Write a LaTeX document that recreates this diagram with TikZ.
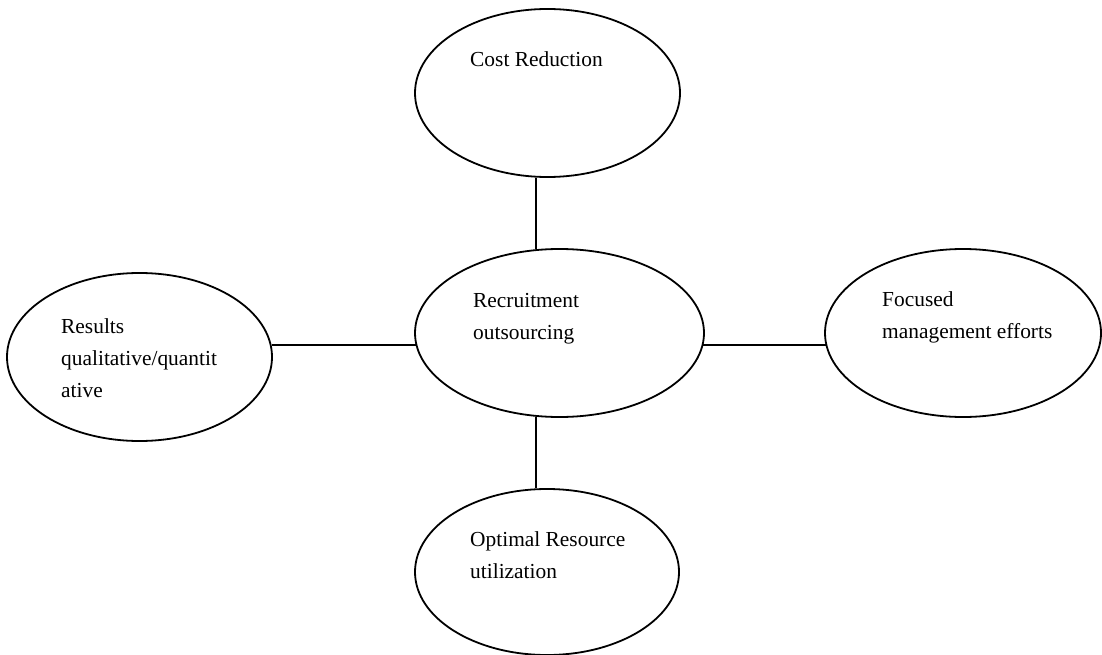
\documentclass[tikz,border=0pt]{standalone}
\usepackage{fontspec}
\setmainfont{Liberation Serif}
\usetikzlibrary{shapes.geometric}
\begin{document}
\begin{tikzpicture}[x=1pt,y=-1pt,
  bubble/.style={draw,ellipse,line width=1.8pt,inner sep=0pt},
  txt/.style={anchor=base west,align=left,inner sep=0pt,font=\fontsize{21.4}{32}\selectfont},
  link/.style={line width=1.8pt}]
\useasboundingbox (0,0) rectangle (1102,655);
\node[bubble,minimum width=265pt,minimum height=168pt] (top) at (547.5,93) {};
\node[bubble,minimum width=289pt,minimum height=168pt] (mid) at (559.5,333) {};
\node[bubble,minimum width=265pt,minimum height=168pt] (lft) at (139.5,357) {};
\node[bubble,minimum width=276pt,minimum height=168pt] (rgt) at (963,333) {};
\node[bubble,minimum width=264pt,minimum height=166pt] (bot) at (547,572) {};
\draw[link] ([xshift=-11.5pt]top.south) -- ([xshift=-23.5pt,yshift=-1pt]mid.north);
\draw[link] ([xshift=-23.5pt,yshift=1pt]mid.south) -- ([xshift=-11pt]bot.north);
\draw[link] ([yshift=12pt,xshift=-1.4pt]lft.east) -- ([yshift=-12pt,xshift=1.5pt]mid.west);
\draw[link] ([yshift=-12pt,xshift=-1.5pt]mid.east) -- ([yshift=-12pt,xshift=1.5pt]rgt.west);
\node[txt] (ttop) at (470,67) {Cost Reduction};
\node[txt] (tmid) at (473,339) {Recruitment\\outsourcing};
\node[txt] (tlft) at (61,397) {Results\\qualitative/quantit\\ative};
\node[txt] (trgt) at (882,338) {Focused\\management efforts};
\node[txt] (tbot) at (470,578) {Optimal Resource\\utilization};
\end{tikzpicture}
\end{document}
